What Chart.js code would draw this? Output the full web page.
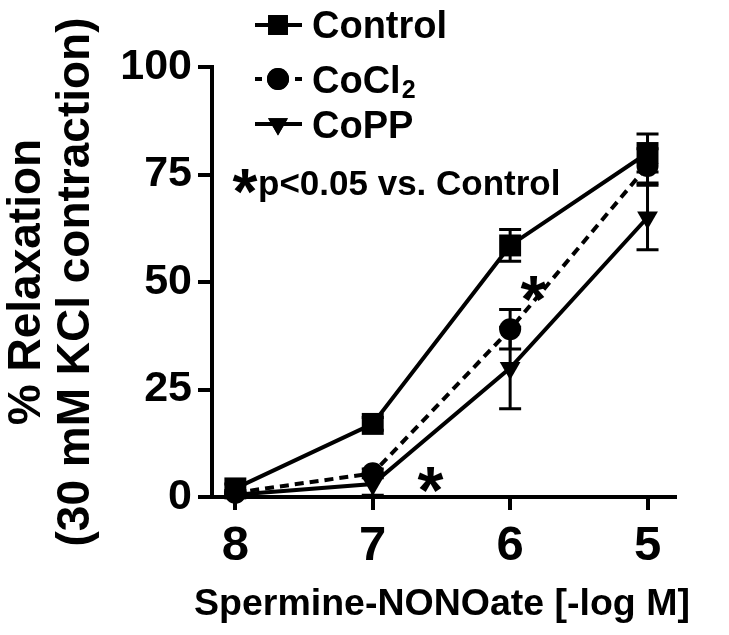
<!DOCTYPE html>
<html>
<head>
<meta charset="utf-8">
<script src="https://cdn.jsdelivr.net/npm/chart.js@4.4.1/dist/chart.umd.min.js"></script>
<style>
  html, body { margin: 0; padding: 0; background: #fff; }
</style>
</head>
<body>
<canvas id="chart" width="729" height="635"></canvas>
<script>
// Concentration-response of Spermine-NONOate relaxation, mean ± SEM.
const doses = [8, 7, 6, 5];
const controlMean = [2, 17, 58.5, 80];
const controlSem = [1, 1.5, 3.7, 4.4];
const cocl2Mean = [1, 5.5, 39, 77];
const cocl2Sem = [0.5, 1, 4.6, 4];
const coppMean = [0.5, 3, 30, 65];
const coppSem = [0.3, 2.6, 9.5, 7.5];
const seriesNames = ["Control", "CoCl₂", "CoPP"];
const xTicks = [8, 7, 6, 5];
const yTicks = [0, 25, 50, 75, 100];
// significance marks (x in -log M, y in %)
const starX = [5.83, 6.58];
const starY = [48.4, 4.0];
const footnote = "p<0.05 vs. Control";
const xTitle = "Spermine-NONOate [-log M]";

const FONT = '"Liberation Sans", Arial, Helvetica, sans-serif';
const BLACK = "#000";

function points(means) {
    return doses.map((d, i) => ({ x: d, y: means[i] }));
}

function drawStar(ctx, cx, cy, inkWidth) {
    // Size the glyph so its ink is `inkWidth` wide, then center the ink.
    ctx.textAlign = "left";
    ctx.textBaseline = "alphabetic";
    ctx.font = `bold 100px ${FONT}`;
    let m = ctx.measureText("*");
    const size = 100 * inkWidth / (m.actualBoundingBoxLeft + m.actualBoundingBoxRight);
    ctx.font = `bold ${size}px ${FONT}`;
    m = ctx.measureText("*");
    const w = m.actualBoundingBoxLeft + m.actualBoundingBoxRight;
    const h = m.actualBoundingBoxAscent + m.actualBoundingBoxDescent;
    ctx.fillText("*", cx - w / 2 + m.actualBoundingBoxLeft, cy + h / 2 - m.actualBoundingBoxDescent);
}

// ── Error bars behind the markers ─────────────────────────────────────────
const errorBars = {
    id: "errorBars",
    beforeDatasetsDraw(chart) {
        const { ctx, scales: { x, y } } = chart;
        const sems = [controlSem, cocl2Sem, coppSem];
        const means = [controlMean, cocl2Mean, coppMean];
        ctx.save();
        ctx.strokeStyle = BLACK;
        ctx.lineWidth = 3;
        for (let s = sems.length - 1; s >= 0; s--) {
            doses.forEach((d, i) => {
                const px = x.getPixelForValue(d);
                const top = y.getPixelForValue(means[s][i] + sems[s][i]);
                const bot = y.getPixelForValue(Math.max(0, means[s][i] - sems[s][i]));
                ctx.beginPath();
                ctx.moveTo(px, top);
                ctx.lineTo(px, bot);
                ctx.moveTo(px - 11, top);
                ctx.lineTo(px + 11, top);
                ctx.moveTo(px - 11, bot);
                ctx.lineTo(px + 11, bot);
                ctx.stroke();
            });
        }
        ctx.restore();
    },
};

// ── Legend, footnote, x title and asterisks ──────────────────────────────
const annotations = {
    id: "annotations",
    afterDraw(chart) {
        const { ctx, scales: { x, y } } = chart;
        ctx.save();
        ctx.fillStyle = BLACK;
        ctx.strokeStyle = BLACK;

        const rows = [
            { y: 25, baseline: 38, style: "rect", radius: 14, dash: false },
            { y: 79, baseline: 93, style: "circle", radius: 11, dash: true },
            { y: 124, baseline: 138, style: "triangle", radius: 11.5, dash: false },
        ];
        rows.forEach((r, i) => {
            ctx.lineWidth = 4;
            ctx.beginPath();
            if (r.dash) {
                ctx.moveTo(255, r.y); ctx.lineTo(262, r.y);
                ctx.moveTo(295, r.y); ctx.lineTo(302, r.y);
            } else {
                ctx.moveTo(255, r.y); ctx.lineTo(302, r.y);
            }
            ctx.stroke();
            Chart.helpers.drawPoint(ctx, {
                pointStyle: r.style, radius: r.radius, borderWidth: 0,
                rotation: r.style === "triangle" ? 180 : 0,
            }, 278, r.y);
            ctx.fill();

            ctx.textAlign = "left";
            ctx.textBaseline = "alphabetic";
            ctx.font = `bold 38px ${FONT}`;
            const name = seriesNames[i];
            if (name.endsWith("₂")) {
                const base = name.slice(0, -1);
                ctx.fillText(base, 312, r.baseline);
                const w = ctx.measureText(base).width;
                ctx.font = `bold 25px ${FONT}`;
                ctx.fillText("2", 312 + w + 1, r.baseline + 5);
            } else {
                ctx.fillText(name, 312, r.baseline);
            }
        });

        drawStar(ctx, 245, 181, 25);
        ctx.font = `bold 35px ${FONT}`;
        ctx.textAlign = "left";
        ctx.textBaseline = "alphabetic";
        ctx.fillText(footnote, 258, 195);

        starX.forEach((sx, i) => {
            drawStar(ctx, x.getPixelForValue(sx), y.getPixelForValue(starY[i]), 26);
        });

        // x-axis title drawn here so Chart.js does not squeeze it to the plot width
        ctx.font = `bold 37.5px ${FONT}`;
        ctx.textAlign = "center";
        ctx.textBaseline = "alphabetic";
        ctx.fillText(xTitle, 442, 615);
        ctx.restore();
    },
};

const commonLine = {
    borderColor: BLACK,
    backgroundColor: BLACK,
    borderWidth: 4,
    pointBorderWidth: 0,
    pointBackgroundColor: BLACK,
    tension: 0,
    clip: false,
};

new Chart(document.getElementById("chart").getContext("2d"), {
    type: "line",
    data: {
        datasets: [
            { ...commonLine, label: seriesNames[0], data: points(controlMean),
              pointStyle: "rect", pointRadius: 15.5 },
            { ...commonLine, label: seriesNames[1], data: points(cocl2Mean),
              pointStyle: "circle", pointRadius: 11, borderDash: [9, 6] },
            { ...commonLine, label: seriesNames[2], data: points(coppMean),
              pointStyle: "triangle", pointRadius: 12, pointRotation: 180 },
        ],
    },
    options: {
        responsive: false,
        animation: false,
        layout: { padding: { left: 0, right: 54, top: 67, bottom: 0 } },
        plugins: { legend: { display: false }, tooltip: { enabled: false } },
        scales: {
            x: {
                type: "linear",
                reverse: true,
                min: 4.8,
                max: 8.17,
                afterBuildTicks: (s) => { s.ticks = xTicks.map((v) => ({ value: v })); },
                afterFit: (s) => { s.height = 138; },
                border: { display: true, color: BLACK, width: 4 },
                grid: { drawOnChartArea: false, color: BLACK, lineWidth: 4, tickLength: 13 },
                ticks: {
                    color: BLACK, padding: 7, maxRotation: 0,
                    font: { family: FONT, size: 49, weight: "bold" },
                },
                title: { display: false },
            },
            y: {
                min: 0,
                max: 100,
                afterBuildTicks: (s) => { s.ticks = yTicks.map((v) => ({ value: v })); },
                afterFit: (s) => { s.width = 212; },
                border: { display: true, color: BLACK, width: 4 },
                grid: { drawOnChartArea: false, color: BLACK, lineWidth: 4, tickLength: 14 },
                ticks: {
                    color: BLACK, padding: 6,
                    font: { family: FONT, size: 43, weight: "bold" },
                },
                title: {
                    display: true,
                    text: ["% Relaxation", "(30 mM KCl contraction)"],
                    color: BLACK,
                    font: { family: FONT, size: 46, weight: "bold", lineHeight: 1.065 },
                    padding: { top: 3, bottom: 0 },
                },
            },
        },
    },
    plugins: [errorBars, annotations],
});
</script>
</body>
</html>
